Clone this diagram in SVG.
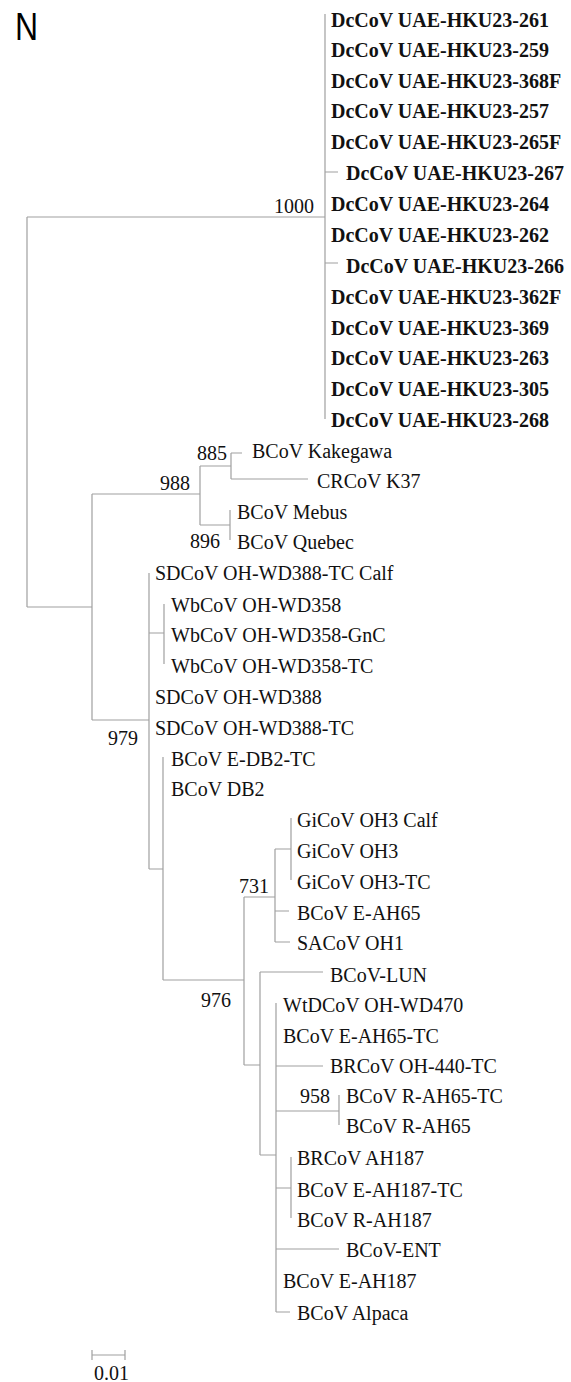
<svg xmlns="http://www.w3.org/2000/svg" width="571" height="1382" viewBox="0 0 571 1382">
<style>
.t{font-family:"Liberation Serif","Times New Roman",serif;font-size:20px;fill:#111}
.b{font-weight:bold}
.br{stroke:#a0a0a0;stroke-width:1.2;fill:none}
</style>
<rect width="571" height="1382" fill="#fff"/>
<text x="15" y="40" font-family="'Liberation Sans',Arial,sans-serif" font-size="39" fill="#000" transform="translate(15 0) scale(0.82 1) translate(-15 0)">N</text>
<g id="connectors" class="br">
<path d="M27 217V607M27 217H325M27 607H92"/>
<path d="M325 14V419M325 172H338M325 263H338"/>
<path d="M92 494V720M92 494H200M92 720H149"/>
<path d="M200 466V525M200 466H231M200 525H230"/>
<path d="M231 453V479M231 453H242M231 479H308"/>
<path d="M230 510V540"/>
<path d="M149 573V869M149 633H164M164 604V664"/>
<path d="M149 869H163M163 757V980"/>
<path d="M163 980H244M244 897V1065"/>
<path d="M244 897H275M275 849V942M275 849H291M291 818V880M275 911H289M275 942H290"/>
<path d="M244 1065H260M260 972V1155M260 972H323"/>
<path d="M260 1155H276M276 1003V1312"/>
<path d="M276 1066H323M276 1111H339M339 1095V1125"/>
<path d="M276 1188H291M291 1157V1218"/>
<path d="M276 1249H339M276 1312H290"/>
<path d="M92 1355H125M92 1350V1360M125 1350V1360"/>
</g>
<g id="bootstrap" class="t">
<text id="bs1000" x="314" y="213" text-anchor="end">1000</text>
<text id="bs885" x="197" y="460">885</text>
<text id="bs988" x="160" y="490">988</text>
<text id="bs896" x="190" y="548">896</text>
<text id="bs979" x="108" y="745">979</text>
<text id="bs731" x="239" y="893">731</text>
<text id="bs976" x="201" y="1007">976</text>
<text id="bs958" x="300" y="1103">958</text>
<text id="scale" x="94" y="1380">0.01</text>
</g>
<g id="dccov" class="t b">
<g id="n261"><text x="331" y="27">DcCoV UAE-HKU23-261</text></g>
<g id="n259"><text x="331" y="57">DcCoV UAE-HKU23-259</text></g>
<g id="n368F"><text x="331" y="88">DcCoV UAE-HKU23-368F</text></g>
<g id="n257"><text x="331" y="118">DcCoV UAE-HKU23-257</text></g>
<g id="n265F"><text x="331" y="149">DcCoV UAE-HKU23-265F</text></g>
<g id="n267"><text x="346" y="180">DcCoV UAE-HKU23-267</text></g>
<g id="n264"><text x="331" y="211">DcCoV UAE-HKU23-264</text></g>
<g id="n262"><text x="331" y="242">DcCoV UAE-HKU23-262</text></g>
<g id="n266"><text x="346" y="273">DcCoV UAE-HKU23-266</text></g>
<g id="n362F"><text x="331" y="304">DcCoV UAE-HKU23-362F</text></g>
<g id="n369"><text x="331" y="335">DcCoV UAE-HKU23-369</text></g>
<g id="n263"><text x="331" y="365">DcCoV UAE-HKU23-263</text></g>
<g id="n305"><text x="331" y="396">DcCoV UAE-HKU23-305</text></g>
<g id="n268"><text x="331" y="427">DcCoV UAE-HKU23-268</text></g>
</g>
<g id="others" class="t">
<g id="kakegawa"><text x="252" y="458">BCoV Kakegawa</text></g>
<g id="k37"><text x="317" y="488">CRCoV K37</text></g>
<g id="mebus"><text x="237" y="519">BCoV Mebus</text></g>
<g id="quebec"><text x="237" y="549">BCoV Quebec</text></g>
<g id="sdcalf"><text x="155" y="580">SDCoV OH-WD388-TC Calf</text></g>
<g id="wb358"><text x="171" y="612">WbCoV OH-WD358</text></g>
<g id="wbgnc"><text x="171" y="642">WbCoV OH-WD358-GnC</text></g>
<g id="wbtc"><text x="171" y="673">WbCoV OH-WD358-TC</text></g>
<g id="sd388"><text x="155" y="704">SDCoV OH-WD388</text></g>
<g id="sd388tc"><text x="155" y="735">SDCoV OH-WD388-TC</text></g>
<g id="edb2tc"><text x="171" y="766">BCoV E-DB2-TC</text></g>
<g id="db2"><text x="171" y="796">BCoV DB2</text></g>
<g id="gicalf"><text x="297" y="827">GiCoV OH3 Calf</text></g>
<g id="gioh3"><text x="297" y="858">GiCoV OH3</text></g>
<g id="gioh3tc"><text x="297" y="889">GiCoV OH3-TC</text></g>
<g id="eah65"><text x="297" y="920">BCoV E-AH65</text></g>
<g id="sacov"><text x="297" y="950">SACoV OH1</text></g>
<g id="lun"><text x="330" y="982">BCoV-LUN</text></g>
<g id="wtd"><text x="283" y="1012">WtDCoV OH-WD470</text></g>
<g id="eah65tc"><text x="283" y="1043">BCoV E-AH65-TC</text></g>
<g id="brcov440"><text x="330" y="1073">BRCoV OH-440-TC</text></g>
<g id="rah65tc"><text x="346" y="1103">BCoV R-AH65-TC</text></g>
<g id="rah65"><text x="346" y="1133">BCoV R-AH65</text></g>
<g id="brah187"><text x="297" y="1165">BRCoV AH187</text></g>
<g id="eah187tc"><text x="297" y="1197">BCoV E-AH187-TC</text></g>
<g id="rah187"><text x="297" y="1227">BCoV R-AH187</text></g>
<g id="ent"><text x="346" y="1257">BCoV-ENT</text></g>
<g id="eah187"><text x="283" y="1288">BCoV E-AH187</text></g>
<g id="alpaca"><text x="297" y="1320">BCoV Alpaca</text></g>
</g>
</svg>
